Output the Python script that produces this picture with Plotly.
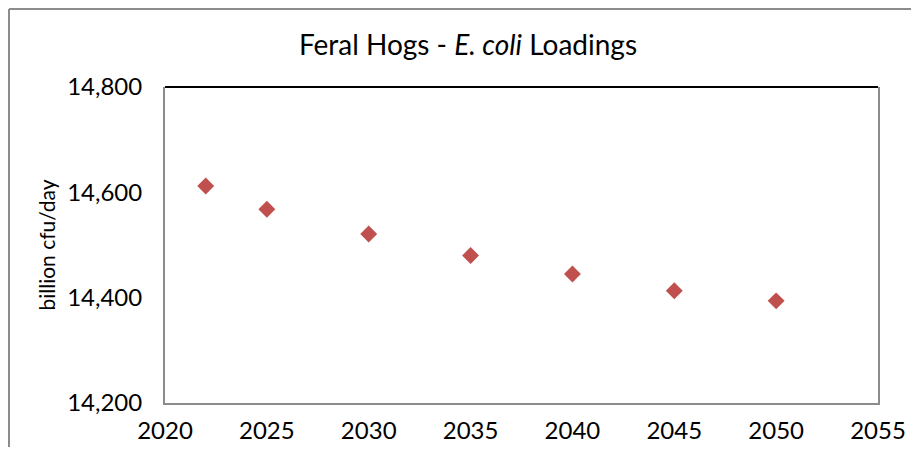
import plotly.graph_objects as go

# Feral hog E. coli loadings (billion cfu/day)
years = [2022, 2025, 2030, 2035, 2040, 2045, 2050]
loadings = [14612, 14568, 14521, 14480, 14445, 14413, 14394]

x_ticks = [2020, 2025, 2030, 2035, 2040, 2045, 2050, 2055]
y_ticks = [14200, 14400, 14600, 14800]

FONT = "Lato, sans-serif"
RED = "#C0504D"
GRAY = "#8C8C8C"

# page body has an 8px margin, so the figure is sized to sit inside the window
W, H = 903, 439
L, R, T, B = 157, 33, 79, 44
pw, ph = W - L - R, H - T - B

fig = go.Figure(
    go.Scatter(
        x=years,
        y=loadings,
        mode="markers",
        marker=dict(symbol="diamond", size=13, color=RED),
        hovertemplate="%{x}<br>%{y:,}<extra></extra>",
    )
)

fig.update_layout(
    width=W,
    height=H,
    paper_bgcolor="white",
    plot_bgcolor="white",
    showlegend=False,
    margin=dict(t=T, b=B, l=L, r=R),
    font=dict(family=FONT, color="black", size=20),
    title=dict(
        text="Feral Hogs - <i>E. coli</i> Loadings",
        x=0.5094,
        xanchor="center",
        y=0.9157,
        yanchor="middle",
        font=dict(family=FONT, size=28, color="black"),
    ),
)

fig.update_xaxes(
    range=[2020, 2055],
    tickvals=x_ticks,
    ticks="",
    showgrid=False,
    zeroline=False,
    showline=True,
    linecolor=GRAY,
    linewidth=2,
    tickfont=dict(size=24),
    ticklabelstandoff=5,
    automargin=False,
)
fig.update_yaxes(
    range=[14200, 14800],
    tickvals=y_ticks,
    tickformat=",d",
    ticks="",
    showgrid=False,
    zeroline=False,
    showline=True,
    mirror=True,
    linecolor=GRAY,
    linewidth=2,
    tickfont=dict(size=24),
    ticklabelstandoff=16,
    title=dict(text="billion cfu/day", font=dict(size=21), standoff=6),
    automargin=False,
)

# black top edge of the plot area, like the Excel original
fig.add_shape(type="line", xref="paper", yref="paper", x0=0, x1=1, y0=1, y1=1,
              line=dict(color="black", width=2))
# outer chart-area border (left and top visible in the crop)
bx = (1 - L) / pw
by = (H - B - 1) / ph
fig.add_shape(type="line", xref="paper", yref="paper", x0=bx, x1=bx, y0=by, y1=-0.3,
              line=dict(color=GRAY, width=2))
fig.add_shape(type="line", xref="paper", yref="paper", x0=bx, x1=1.1, y0=by, y1=by,
              line=dict(color=GRAY, width=2))

fig.write_html("out.html")
